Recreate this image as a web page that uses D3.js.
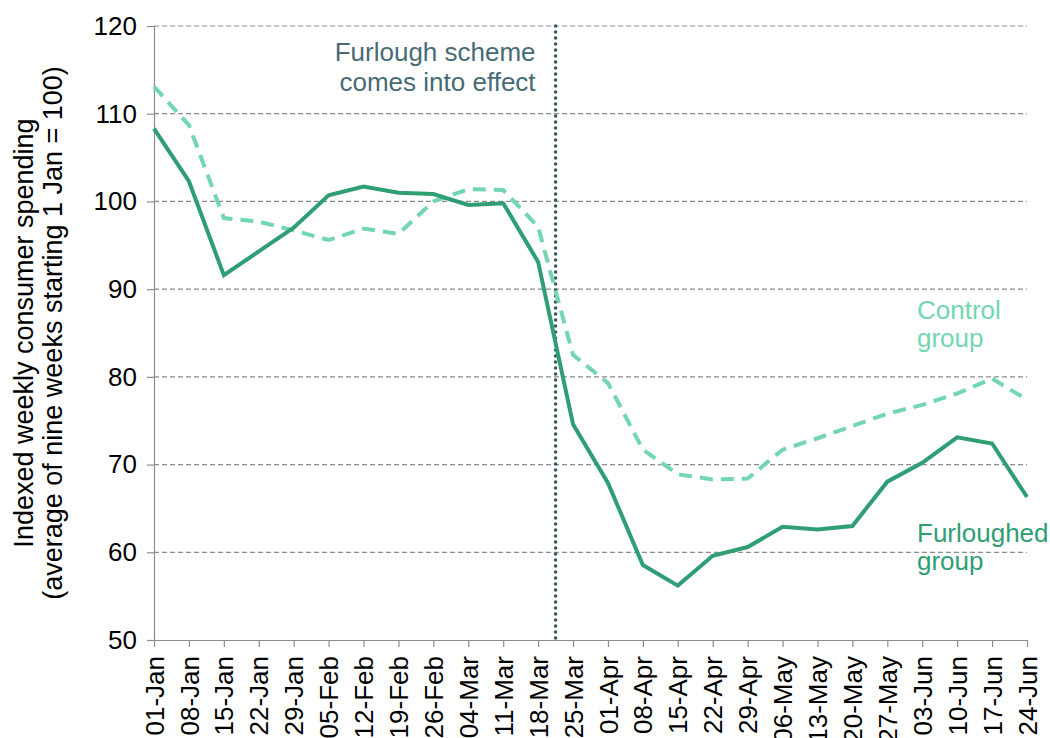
<!DOCTYPE html>
<html>
<head>
<meta charset="utf-8">
<script src="https://cdn.jsdelivr.net/npm/d3@7"></script>
<style>
  body { margin: 0; background: #fff; }
  text { font-family: "Liberation Sans", Arial, sans-serif; }
</style>
</head>
<body>
<div id="chart"></div>
<script>
// weeks (week starting)
const weeks = ["01-Jan","08-Jan","15-Jan","22-Jan","29-Jan","05-Feb","12-Feb","19-Feb","26-Feb",
  "04-Mar","11-Mar","18-Mar","25-Mar","01-Apr","08-Apr","15-Apr","22-Apr","29-Apr",
  "06-May","13-May","20-May","27-May","03-Jun","10-Jun","17-Jun","24-Jun"];

const furloughed = [108.3,102.3,91.6,94.3,97.0,100.7,101.7,101.0,100.85,99.6,99.8,93.1,
  74.6,67.9,58.55,56.2,59.6,60.6,62.9,62.6,63.0,68.05,70.2,73.1,72.4,66.3];

const control = [113.1,108.7,98.1,97.7,96.7,95.6,96.9,96.3,100.0,101.4,101.3,97.1,
  82.5,79.3,71.7,68.9,68.3,68.4,71.7,73.0,74.4,75.8,76.8,78.1,79.8,77.4];

const yTicks = [50,60,70,80,90,100,110,120];

const width = 1050, height = 738;
const margin = {left: 154, right: 23, top: 26, bottom: 98};

const svg = d3.select("#chart").append("svg")
  .attr("width", width)
  .attr("height", height);

const x = d3.scalePoint()
  .domain(weeks)
  .range([margin.left, width - margin.right]);

const y = d3.scaleLinear()
  .domain([50, 120])
  .range([height - margin.bottom, margin.top]);

// gridlines
svg.append("g")
  .selectAll("line")
  .data(yTicks.filter(d => d > 50))
  .enter().append("line")
  .attr("x1", margin.left)
  .attr("x2", width - margin.right)
  .attr("y1", d => y(d))
  .attr("y2", d => y(d))
  .style("stroke", "#8c8c8c")
  .style("stroke-width", 1.2)
  .style("stroke-dasharray", "5,3");

// y axis
const yAxis = svg.append("g")
  .attr("transform", "translate(" + margin.left + ",0)")
  .call(d3.axisLeft(y).tickValues(yTicks).tickSize(7).tickPadding(10));
yAxis.select(".domain").style("stroke", "#8c8c8c").style("stroke-width", 1.2);
yAxis.selectAll(".tick line").style("stroke", "#8c8c8c").style("stroke-width", 1.2);
yAxis.selectAll("text")
  .style("font-size", "26px")
  .style("fill", "#000")
  .style("font-family", "'Liberation Sans', Arial, sans-serif");

// x axis
const xAxis = svg.append("g")
  .attr("transform", "translate(0," + y(50) + ")")
  .call(d3.axisBottom(x).tickSize(7).tickSizeOuter(0));
xAxis.select(".domain").style("stroke", "#8c8c8c").style("stroke-width", 1.2);
xAxis.selectAll(".tick line").style("stroke", "#8c8c8c").style("stroke-width", 1.2);
xAxis.selectAll("text")
  .style("font-size", "26px")
  .style("fill", "#000")
  .style("font-family", "'Liberation Sans', Arial, sans-serif")
  .attr("text-anchor", "end")
  .attr("transform", "rotate(-90)")
  .attr("x", -16)
  .attr("y", 0)
  .attr("dy", "0.35em");

// furlough line, between 18-Mar and 25-Mar
const xFurlough = (x("18-Mar") + x("25-Mar")) / 2;
svg.append("line")
  .attr("x1", xFurlough).attr("x2", xFurlough)
  .attr("y1", y(120)).attr("y2", y(50))
  .style("stroke", "#3a5864")
  .style("stroke-width", 3.6)
  .style("stroke-linecap", "round")
  .style("stroke-dasharray", "0,6");

svg.append("text")
  .attr("x", xFurlough - 20)
  .attr("y", 61)
  .attr("text-anchor", "end")
  .style("font-size", "26px")
  .style("fill", "#476b74")
  .selectAll("tspan")
  .data(["Furlough scheme", "comes into effect"])
  .enter().append("tspan")
  .attr("x", xFurlough - 20)
  .attr("dy", (d, i) => i === 0 ? 0 : 30)
  .text(d => d);

const line = d3.line()
  .x((d, i) => x(weeks[i]))
  .y(d => y(d));

svg.append("path")
  .datum(control)
  .attr("d", line)
  .style("fill", "none")
  .style("stroke", "#72d6b0")
  .style("stroke-width", 4)
  .style("stroke-dasharray", "13,8");

svg.append("path")
  .datum(furloughed)
  .attr("d", line)
  .style("fill", "none")
  .style("stroke", "#2f9e73")
  .style("stroke-width", 4);

// series labels
function label(lines, xPos, yPos, color) {
  svg.append("text")
    .attr("x", xPos)
    .attr("y", yPos)
    .style("font-size", "26px")
    .style("fill", color)
    .selectAll("tspan")
    .data(lines)
    .enter().append("tspan")
    .attr("x", xPos)
    .attr("dy", (d, i) => i === 0 ? 0 : 28)
    .text(d => d);
}
label(["Control", "group"], 917, 319, "#72d6b0");
label(["Furloughed", "group"], 917, 542, "#2f9e73");

// y axis title
svg.append("text")
  .attr("transform", "translate(0," + y(85) + ") rotate(-90)")
  .attr("text-anchor", "middle")
  .style("font-size", "27px")
  .style("fill", "#000")
  .selectAll("tspan")
  .data(["Indexed weekly consumer spending", "(average of nine weeks starting 1 Jan = 100)"])
  .enter().append("tspan")
  .attr("x", 0)
  .attr("y", (d, i) => i === 0 ? 33 : 62)
  .text(d => d);
</script>
</body>
</html>
